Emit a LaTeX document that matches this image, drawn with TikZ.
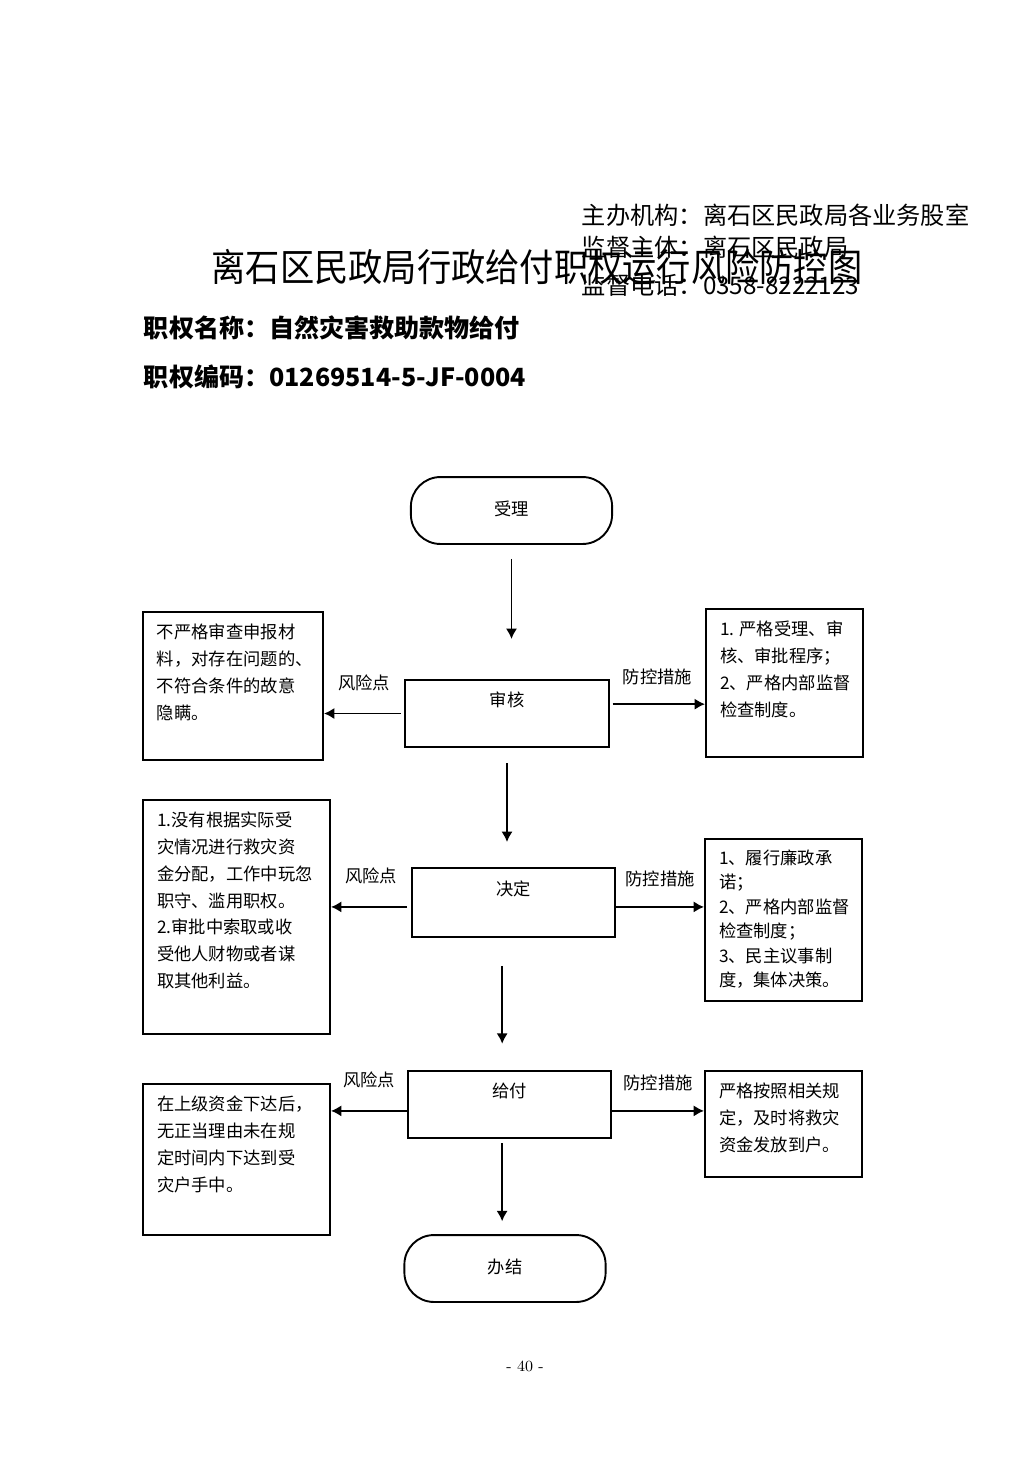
\documentclass[tikz,border=0pt]{standalone}
\usepackage{fontspec}
\usetikzlibrary{arrows.meta}
\newfontfamily\cjk{Noto Sans CJK SC}
\newcommand{\notetext}[3]{\parbox[c][#1][t]{#2}{#3}}
\begin{document}
\begin{tikzpicture}[>={Latex[length=6pt,width=6.5pt]}, x=0.020329cm, y=-0.020329cm, line width=1.1pt,
  every node/.style={font=\cjk\fontsize{10}{15.5}\selectfont},
  head/.style={anchor=west, inner sep=0pt},
  stepbox/.style={draw, rectangle, minimum width=4.13cm, minimum height=1.37cm, text height=8pt, text depth=16pt},
  endbox/.style={draw, rectangle, rounded corners=0.6cm, minimum width=4.09cm, minimum height=1.36cm},
  notebox/.style={draw, rectangle, inner sep=0pt},
  lbl/.style={midway, yshift=#1}]
\useasboundingbox (0,0) rectangle (1033,1461);

% 表头
\node[head, font=\cjk\fontsize{14}{14}\selectfont] (org) at (581,215) {主办机构：离石区民政局各业务股室};
\node[head, font=\cjk\fontsize{14}{14}\selectfont] (sup) at (581,247) {监督主体：离石区民政局};
\node[head, font=\cjk\fontsize{14}{14}\selectfont] (tel) at (581,285) {监督电话：0358-8222123};
\node[font=\cjk\fontsize{22}{22}\selectfont] (title) at (537,267) {\scalebox{0.9}[1]{离石区民政局行政给付职权运行风险防控图}};
\node[head, font=\cjk\bfseries\fontsize{14.5}{14.5}\selectfont] (name) at (143,328) {职权名称：自然灾害救助款物给付};
\node[head, font=\cjk\bfseries\fontsize{14.5}{14.5}\selectfont] (code) at (143,377) {职权编码：01269514-5-JF-0004};

% 流程
\node[endbox, text depth=3pt] (accept) at (511.5,510.5) {受理};
\node[stepbox] (audit) at (507,713.5) {审核};
\node[stepbox, minimum height=1.40cm] (decide) at (513.5,902.5) {决定};
\node[stepbox] (pay) at (509.5,1104.5) {给付};
\node[endbox, text depth=3pt] (finish) at (505,1268.5) {办结};

% 风险点
\node[notebox, minimum width=3.659cm, minimum height=3.009cm] (risk1) at (233,686)
  {\notetext{2.52cm}{3.09cm}{不严格审查申报材\\料，对存在问题的、\\不符合条件的故意\\隐瞒。}};
\node[notebox, minimum width=3.802cm, minimum height=4.757cm] (risk2) at (236.5,917)
  {\notetext{4.27cm}{3.23cm}{1.没有根据实际受\\灾情况进行救灾资\\金分配，工作中玩忽\\职守、滥用职权。\\2.审批中索取或收\\受他人财物或者谋\\取其他利益。}};
\node[notebox, minimum width=3.802cm, minimum height=3.070cm] (risk3) at (236.5,1159.5)
  {\notetext{2.58cm}{3.23cm}{在上级资金下达后，\\无正当理由未在规\\定时间内下达到受\\灾户手中。}};

% 防控措施
\node[notebox, minimum width=3.192cm, minimum height=3.009cm] (ctrl1) at (784.5,683)
  {\notetext{2.52cm}{2.62cm}{1. 严格受理、审\\核、审批程序；\\2、严格内部监督\\检查制度。}};
\node[notebox, minimum width=3.192cm, minimum height=3.293cm, font=\cjk\fontsize{10}{14.1}\selectfont] (ctrl2) at (783.5,920)
  {\notetext{2.85cm}{2.62cm}{1、履行廉政承\\诺；\\2、严格内部监督\\检查制度；\\3、民主议事制\\度，集体决策。}};
\node[notebox, minimum width=3.192cm, minimum height=2.155cm] (ctrl3) at (783.5,1124)
  {\notetext{1.67cm}{2.62cm}{严格按照相关规\\定，及时将救灾\\资金发放到户。}};

% 主线
\coordinate (d3) at ([xshift=-0.23cm]decide.south);
\coordinate (p4) at ([xshift=-0.15cm]pay.south);
\draw[->, shorten <=0.285cm, shorten >=0.81cm] (accept.south) -- (accept.south |- audit.north);
\draw[->, shorten <=0.305cm, shorten >=0.51cm] (audit.south) -- (audit.south |- decide.north);
\draw[->, shorten <=0.57cm, shorten >=0.53cm] (d3) -- (d3 |- pay.north);
\draw[->, shorten <=0.08cm, shorten >=0.26cm] (p4) -- (p4 |- finish.north);

% 分支
\coordinate (a1) at ([yshift=0.19cm]audit.east);
\coordinate (b1) at ([yshift=-0.09cm]decide.west);
\coordinate (b2) at ([yshift=-0.09cm]decide.east);
\coordinate (c1) at ([yshift=-0.13cm]pay.west);
\coordinate (c2) at ([yshift=-0.13cm]pay.east);
\draw[->, shorten <=0.08cm] (audit.west) -- node[lbl=18pt] {风险点} (audit.west -| risk1.east);
\draw[->, shorten <=0.06cm] (a1) -- node[lbl=16pt] {防控措施} (a1 -| ctrl1.west);
\draw[->, shorten <=0.08cm] (b1) -- node[lbl=18pt] {风险点} (b1 -| risk2.east);
\draw[->] (b2) -- node[lbl=16pt] {防控措施} (b2 -| ctrl2.west);
\draw[->] (c1) -- node[lbl=18pt] {风险点} (c1 -| risk3.east);
\draw[->] (c2) -- node[lbl=16pt] {防控措施} (c2 -| ctrl3.west);

% 页码
\node[font=\fontsize{9}{9}\selectfont] (page) at (525,1366) {- 40 -};
\end{tikzpicture}
\end{document}
